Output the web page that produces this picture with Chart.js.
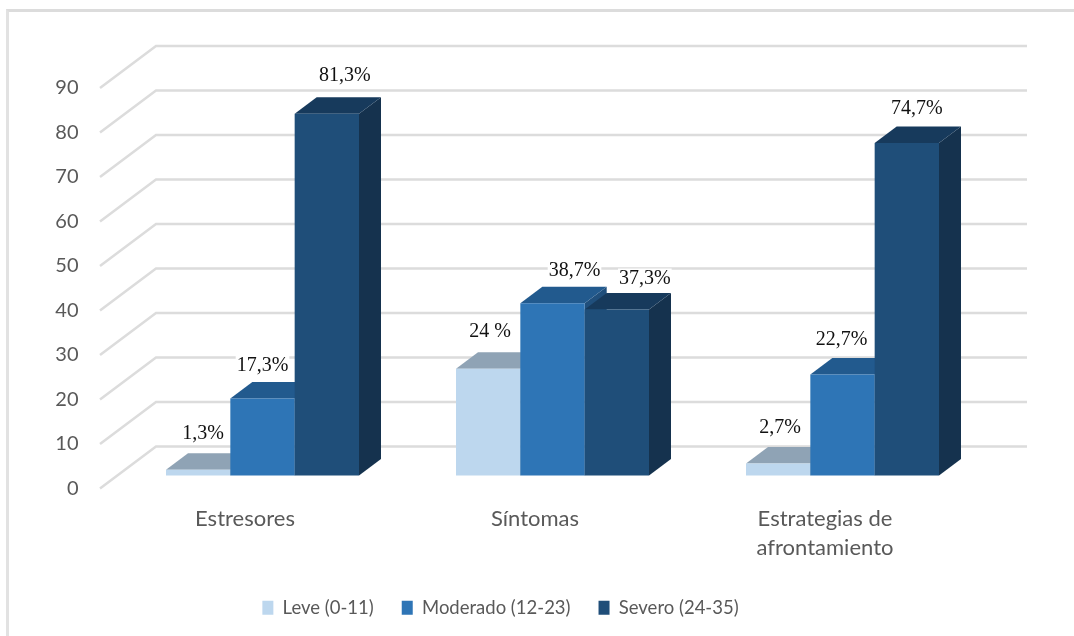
<!DOCTYPE html>
<html>
<head>
<meta charset="utf-8">
<title>Niveles de estrés</title>
<script src="https://cdn.jsdelivr.net/npm/chart.js@4/dist/chart.umd.min.js"></script>
<style>
    html, body { margin: 0; padding: 0; background: #fff; }
    #wrap { position: relative; width: 1074px; height: 636px; overflow: hidden; }
    #frame { position: absolute; left: 6px; top: 9px; right: 0; bottom: 0; border-left: 3px solid #e2e2e2; border-top: 3px solid #dcdcdc; }
    canvas { position: absolute; left: 0; top: 0; }
</style>
</head>
<body>
<div id="wrap">
    <div id="frame"></div>
    <canvas id="chart" width="1074" height="636"></canvas>
</div>
<script>
const categories = ['Estresores', 'Síntomas', ['Estrategias de', 'afrontamiento']];
const seriesNames = ['Leve (0-11)', 'Moderado (12-23)', 'Severo (24-35)'];
const leve = [1.3, 24, 2.7];
const moderado = [17.3, 38.7, 22.7];
const severo = [81.3, 37.3, 74.7];
const leveLabels = ['1,3%', '24 %', '2,7%'];
const moderadoLabels = ['17,3%', '38,7%', '22,7%'];
const severoLabels = ['81,3%', '37,3%', '74,7%'];

// colours per series: front, top, side
const fronts = ['#bdd7ee', '#2e75b6', '#1f4e79'];
const tops = ['#8fa3b5', '#225a8e', '#173a5c'];
const sides = ['#8fa3b5', '#204f7c', '#15324e'];

// labels were moved by hand in the original, offsets from the bar top centre
const labelOffsets = [
    [[5, -36], [2, -37], [2, -36]],
    [[0, -33], [22, -33], [-1, -35]],
    [[18, -38], [28, -31], [10, -34]]
];
const labelTexts = [leveLabels, moderadoLabels, severoLabels];

// fake 3D depth
const barDepth = { x: 22, y: 16.5 };
const wallDepth = { x: 38.5, y: 29 };
const floorFront = { x: 17.5, y: 13 };
const wallRight = 1027;

const fake3d = {
    id: 'fake3d',
    beforeDatasetsDraw(chart) {
        const { ctx, chartArea, scales: { y } } = chart;
        ctx.save();
        ctx.strokeStyle = '#dcdcdc';
        ctx.lineWidth = 2.5;
        y.ticks.forEach(t => {
            const py = y.getPixelForValue(t.value);
            ctx.beginPath();
            ctx.moveTo(chartArea.left - floorFront.x, py + floorFront.y);
            ctx.lineTo(chartArea.left + wallDepth.x, py - wallDepth.y);
            ctx.lineTo(wallRight, py - wallDepth.y);
            ctx.stroke();
        });
        ctx.restore();
    },
    // default bar drawing is skipped, bars are painted left to right below
    beforeDatasetDraw() {
        return false;
    },
    afterDatasetsDraw(chart) {
        const { ctx } = chart;
        chart.data.datasets.forEach((ds, i) => {
            chart.getDatasetMeta(i).data.forEach(bar => {
                const l = bar.x - bar.width / 2;
                const r = bar.x + bar.width / 2;
                const dx = barDepth.x, dy = barDepth.y;
                ctx.fillStyle = sides[i];
                ctx.beginPath();
                ctx.moveTo(r, bar.y);
                ctx.lineTo(r + dx, bar.y - dy);
                ctx.lineTo(r + dx, bar.base - dy);
                ctx.lineTo(r, bar.base);
                ctx.closePath();
                ctx.fill();
                ctx.fillStyle = tops[i];
                ctx.beginPath();
                ctx.moveTo(l, bar.y);
                ctx.lineTo(l + dx, bar.y - dy);
                ctx.lineTo(r + dx, bar.y - dy);
                ctx.lineTo(r, bar.y);
                ctx.closePath();
                ctx.fill();
                bar.draw(ctx);
            });
        });
        ctx.save();
        ctx.font = '20px "Liberation Serif"';
        ctx.textAlign = 'center';
        ctx.textBaseline = 'middle';
        chart.data.datasets.forEach((ds, i) => {
            chart.getDatasetMeta(i).data.forEach((bar, j) => {
                const text = labelTexts[i][j];
                const cx = bar.x + labelOffsets[i][j][0];
                const cy = bar.y + labelOffsets[i][j][1];
                const w = ctx.measureText(text).width;
                ctx.fillStyle = '#fff';
                ctx.fillRect(cx - w / 2 - 1, cy - 10, w + 2, 20);
                ctx.fillStyle = '#111';
                ctx.fillText(text, cx, cy);
            });
        });
        ctx.restore();
    }
};

new Chart(document.getElementById('chart'), {
    type: 'bar',
    data: {
        labels: categories,
        datasets: [
            { label: seriesNames[0], data: leve, backgroundColor: fronts[0] },
            { label: seriesNames[1], data: moderado, backgroundColor: fronts[1] },
            { label: seriesNames[2], data: severo, backgroundColor: fronts[2] }
        ]
    },
    options: {
        responsive: false,
        animation: false,
        categoryPercentage: 0.6655,
        barPercentage: 1,
        layout: { padding: { left: 13.5, right: 86.5, top: 75, bottom: 9 } },
        plugins: {
            tooltip: { enabled: false },
            legend: {
                position: 'bottom',
                labels: {
                    boxWidth: 11,
                    boxHeight: 14,
                    padding: 28,
                    color: '#595959',
                    font: { family: 'Lato', size: 18.5 }
                }
            }
        },
        scales: {
            x: {
                grid: { display: false },
                border: { display: false },
                afterFit(scale) { scale.height = 95; },
                ticks: {
                    color: '#595959',
                    padding: 21,
                    labelOffset: -17.5,
                    maxRotation: 0,
                    font: { family: 'Lato', size: 22, lineHeight: 1.32 }
                }
            },
            y: {
                min: 0,
                max: 90,
                grid: { display: false },
                border: { display: false },
                afterFit(scale) { scale.width = 104; },
                ticks: {
                    stepSize: 10,
                    color: '#595959',
                    padding: 31,
                    labelOffset: 13,
                    font: { family: 'Lato', size: 20 }
                }
            }
        }
    },
    plugins: [fake3d]
});
</script>
</body>
</html>
